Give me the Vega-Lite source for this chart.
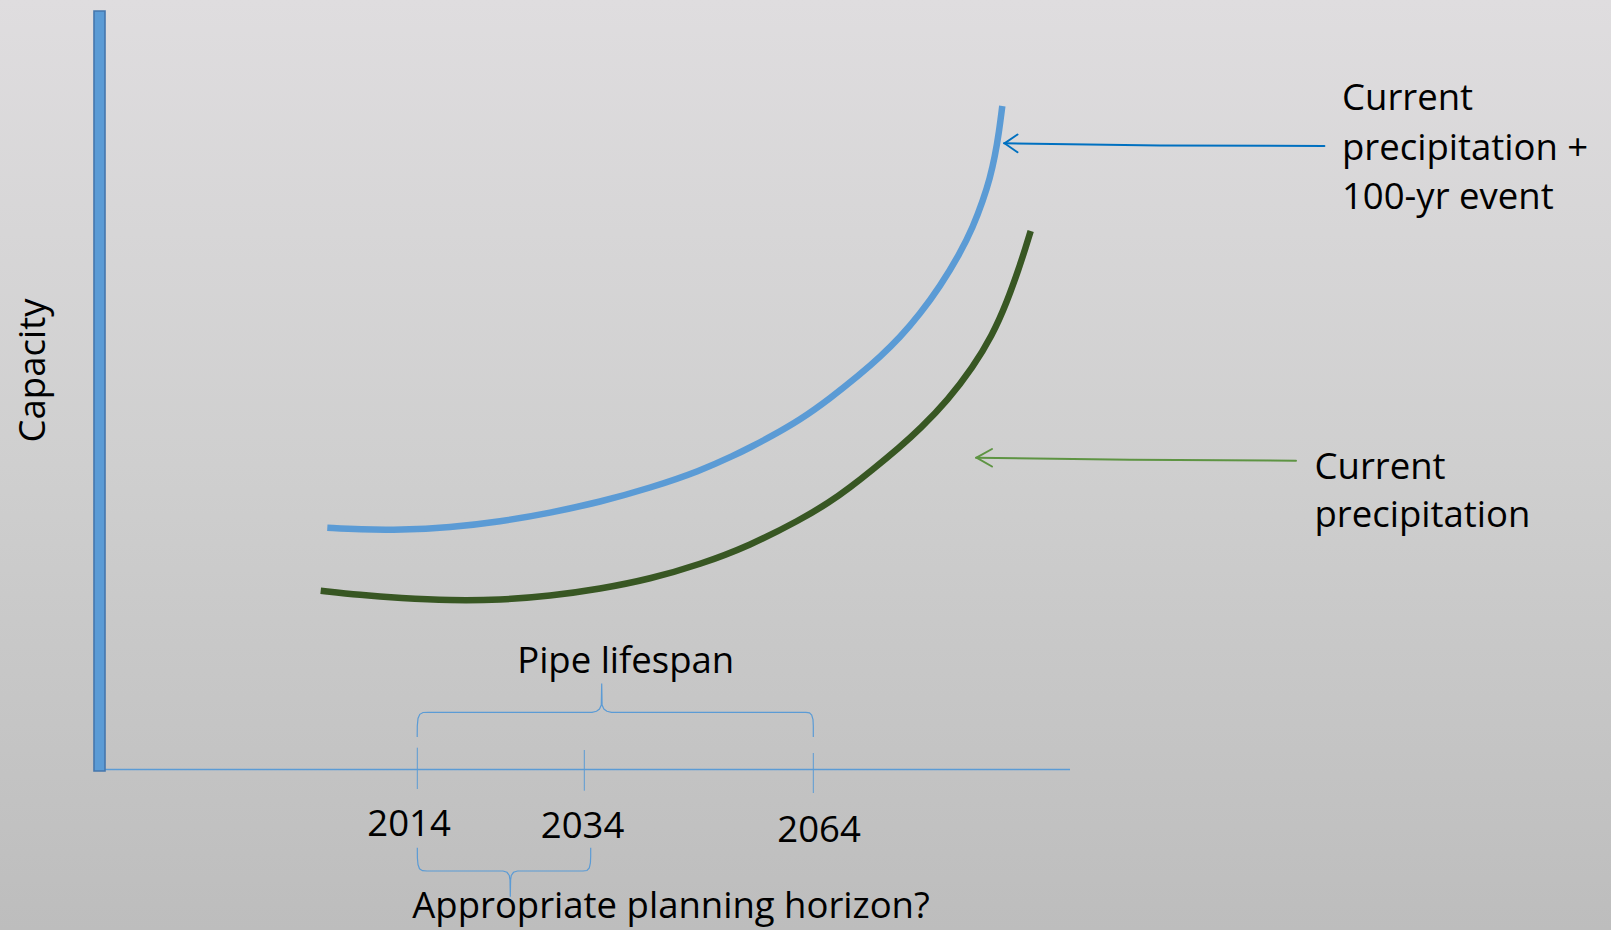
{
  "$schema": "https://vega.github.io/schema/vega-lite/v6.json",
  "width": 1611,
  "height": 930,
  "autosize": {"type": "fit", "contains": "padding"},
  "padding": 0,
  "background": "#cfcfcf",
  "config": {
    "view": {
      "stroke": null,
      "fill": {"gradient": "linear", "x1": 0, "y1": 0, "x2": 0, "y2": 1,
        "stops": [{"offset": 0, "color": "#dfdddf"}, {"offset": 0.5, "color": "#cfcfcf"}, {"offset": 1, "color": "#bdbdbd"}]}
    },
    "text": {"font": "Open Sans", "fontSize": 36.5, "color": "#000000"}
  },
  "datasets": {
    "bars": [{"x": 94, "x2": 105, "y": 11, "y2": 771}],
    "axisline": [{"x": 105, "x2": 1070, "y": 769.5, "y2": 769.5}],
    "ticks": [
      {"year": "2014", "x": 417.3, "x2": 417.3, "y": 747.7, "y2": 789},
      {"year": "2034", "x": 584.3, "x2": 584.3, "y": 750, "y2": 790.7},
      {"year": "2064", "x": 813.3, "x2": 813.3, "y": 753, "y2": 793}
    ],
    "curves": [
      {"s": "plus100", "x": 327.3, "y": 527.7},
      {"s": "plus100", "x": 360, "y": 529.5},
      {"s": "plus100", "x": 400, "y": 530},
      {"s": "plus100", "x": 450, "y": 527.5},
      {"s": "plus100", "x": 500, "y": 521.7},
      {"s": "plus100", "x": 550, "y": 513},
      {"s": "plus100", "x": 600, "y": 502},
      {"s": "plus100", "x": 650, "y": 488},
      {"s": "plus100", "x": 700, "y": 471},
      {"s": "plus100", "x": 735, "y": 455},
      {"s": "plus100", "x": 750, "y": 447.5},
      {"s": "plus100", "x": 770, "y": 437},
      {"s": "plus100", "x": 800, "y": 420},
      {"s": "plus100", "x": 830, "y": 398.5},
      {"s": "plus100", "x": 860, "y": 374.5},
      {"s": "plus100", "x": 880, "y": 357},
      {"s": "plus100", "x": 900, "y": 337.5},
      {"s": "plus100", "x": 920, "y": 314},
      {"s": "plus100", "x": 940, "y": 286.5},
      {"s": "plus100", "x": 960, "y": 253.5},
      {"s": "plus100", "x": 973, "y": 227},
      {"s": "plus100", "x": 983, "y": 200.5},
      {"s": "plus100", "x": 990, "y": 178},
      {"s": "plus100", "x": 995, "y": 156},
      {"s": "plus100", "x": 999, "y": 132},
      {"s": "plus100", "x": 1002.3, "y": 106},
      {"s": "current", "x": 320.7, "y": 590.7},
      {"s": "current", "x": 360, "y": 595},
      {"s": "current", "x": 400, "y": 598},
      {"s": "current", "x": 450, "y": 600.5},
      {"s": "current", "x": 500, "y": 600},
      {"s": "current", "x": 550, "y": 596},
      {"s": "current", "x": 600, "y": 589},
      {"s": "current", "x": 650, "y": 579},
      {"s": "current", "x": 700, "y": 564.5},
      {"s": "current", "x": 750, "y": 545.5},
      {"s": "current", "x": 800, "y": 520},
      {"s": "current", "x": 830, "y": 502},
      {"s": "current", "x": 850, "y": 487.5},
      {"s": "current", "x": 871, "y": 471},
      {"s": "current", "x": 900, "y": 447},
      {"s": "current", "x": 920, "y": 429},
      {"s": "current", "x": 948, "y": 400},
      {"s": "current", "x": 973, "y": 367},
      {"s": "current", "x": 992, "y": 336},
      {"s": "current", "x": 1007, "y": 302},
      {"s": "current", "x": 1019, "y": 268},
      {"s": "current", "x": 1025.5, "y": 248},
      {"s": "current", "x": 1030.7, "y": 231}
    ],
    "braces": [
      {"b": "lifespan", "k": 1, "x": 417.2, "y": 737},
      {"b": "lifespan", "k": 2, "x": 417.3, "y": 726},
      {"b": "lifespan", "k": 3, "x": 418, "y": 718.5},
      {"b": "lifespan", "k": 4, "x": 419.8, "y": 714.3},
      {"b": "lifespan", "k": 5, "x": 423, "y": 712.5},
      {"b": "lifespan", "k": 6, "x": 428, "y": 712.3},
      {"b": "lifespan", "k": 7, "x": 592, "y": 712.3},
      {"b": "lifespan", "k": 8, "x": 596.5, "y": 711.3},
      {"b": "lifespan", "k": 9, "x": 599.5, "y": 709},
      {"b": "lifespan", "k": 10, "x": 601.3, "y": 705},
      {"b": "lifespan", "k": 11, "x": 601.7, "y": 683.5},
      {"b": "lifespan", "k": 12, "x": 602.1, "y": 705},
      {"b": "lifespan", "k": 13, "x": 603.9, "y": 709},
      {"b": "lifespan", "k": 14, "x": 606.9, "y": 711.3},
      {"b": "lifespan", "k": 15, "x": 611.5, "y": 712.3},
      {"b": "lifespan", "k": 16, "x": 806, "y": 712.3},
      {"b": "lifespan", "k": 17, "x": 809.5, "y": 712.8},
      {"b": "lifespan", "k": 18, "x": 811.7, "y": 715},
      {"b": "lifespan", "k": 19, "x": 813, "y": 719.5},
      {"b": "lifespan", "k": 20, "x": 813.3, "y": 726},
      {"b": "lifespan", "k": 21, "x": 813.3, "y": 737},
      {"b": "horizon", "k": 1, "x": 417.3, "y": 847.7},
      {"b": "horizon", "k": 2, "x": 417.4, "y": 858},
      {"b": "horizon", "k": 3, "x": 418, "y": 864.5},
      {"b": "horizon", "k": 4, "x": 419.5, "y": 868.8},
      {"b": "horizon", "k": 5, "x": 422.5, "y": 870.7},
      {"b": "horizon", "k": 6, "x": 427, "y": 871},
      {"b": "horizon", "k": 7, "x": 503, "y": 871},
      {"b": "horizon", "k": 8, "x": 507, "y": 872.3},
      {"b": "horizon", "k": 9, "x": 509.3, "y": 875.5},
      {"b": "horizon", "k": 10, "x": 510, "y": 880},
      {"b": "horizon", "k": 11, "x": 510.3, "y": 896.7},
      {"b": "horizon", "k": 12, "x": 510.6, "y": 880},
      {"b": "horizon", "k": 13, "x": 511.3, "y": 875.5},
      {"b": "horizon", "k": 14, "x": 513.5, "y": 872.3},
      {"b": "horizon", "k": 15, "x": 517.5, "y": 871},
      {"b": "horizon", "k": 16, "x": 583, "y": 871},
      {"b": "horizon", "k": 17, "x": 587, "y": 870.5},
      {"b": "horizon", "k": 18, "x": 589.3, "y": 868},
      {"b": "horizon", "k": 19, "x": 590.4, "y": 863},
      {"b": "horizon", "k": 20, "x": 590.7, "y": 856},
      {"b": "horizon", "k": 21, "x": 590.7, "y": 847.7}
    ],
    "arrows": [
      {"a": "plus100-shaft", "s": "plus100", "k": 1, "x": 1004, "y": 143.3},
      {"a": "plus100-shaft", "s": "plus100", "k": 2, "x": 1160, "y": 145.5},
      {"a": "plus100-shaft", "s": "plus100", "k": 3, "x": 1324.4, "y": 146},
      {"a": "plus100-head", "s": "plus100", "k": 1, "x": 1017.5, "y": 134.5},
      {"a": "plus100-head", "s": "plus100", "k": 2, "x": 1004.5, "y": 143.3},
      {"a": "plus100-head", "s": "plus100", "k": 3, "x": 1017.5, "y": 152.3},
      {"a": "current-shaft", "s": "current", "k": 1, "x": 976, "y": 457.7},
      {"a": "current-shaft", "s": "current", "k": 2, "x": 1130, "y": 459.8},
      {"a": "current-shaft", "s": "current", "k": 3, "x": 1296, "y": 460.7},
      {"a": "current-head", "s": "current", "k": 1, "x": 992, "y": 449},
      {"a": "current-head", "s": "current", "k": 2, "x": 976.5, "y": 457.7},
      {"a": "current-head", "s": "current", "k": 3, "x": 992, "y": 466.5}
    ],
    "labels": [
      {"g": "center", "t": "Pipe lifespan", "x": 625.7, "y": 672.7},
      {"g": "center", "t": "2014", "x": 409, "y": 836},
      {"g": "center", "t": "2034", "x": 582.5, "y": 837.7},
      {"g": "center", "t": "2064", "x": 819, "y": 841.7},
      {"g": "center", "t": "Appropriate planning horizon?", "x": 671, "y": 918},
      {"g": "left", "t": "Current", "x": 1342, "y": 110},
      {"g": "left", "t": "precipitation +", "x": 1342, "y": 159.5},
      {"g": "left", "t": "100-yr event", "x": 1342, "y": 209},
      {"g": "left", "t": "Current", "x": 1314.5, "y": 478.5},
      {"g": "left", "t": "precipitation", "x": 1314.5, "y": 527},
      {"g": "vertical", "t": "Capacity", "x": 45, "y": 370.5}
    ]
  },
  "encoding": {
    "x": {"field": "x", "type": "quantitative", "scale": {"domain": [0, 1611], "nice": false, "zero": false}, "axis": null},
    "y": {"field": "y", "type": "quantitative", "scale": {"domain": [0, 930], "reverse": true, "nice": false, "zero": false}, "axis": null}
  },
  "layer": [
    {
      "data": {"name": "axisline"},
      "mark": {"type": "rule", "color": "#5b9bd5", "strokeWidth": 1.5},
      "encoding": {"x2": {"field": "x2"}, "y2": {"field": "y2"}}
    },
    {
      "data": {"name": "ticks"},
      "mark": {"type": "rule", "color": "#5b9bd5", "strokeWidth": 1},
      "encoding": {"x2": {"field": "x2"}, "y2": {"field": "y2"}}
    },
    {
      "data": {"name": "bars"},
      "mark": {"type": "rect", "fill": "#5b9bd5", "stroke": "#4577ad", "strokeWidth": 1.6},
      "encoding": {"x2": {"field": "x2"}, "y2": {"field": "y2"}}
    },
    {
      "data": {"name": "braces"},
      "mark": {"type": "line", "color": "#5b9bd5", "strokeWidth": 1.2, "interpolate": "linear"},
      "encoding": {"detail": {"field": "b"}, "order": {"field": "k", "type": "quantitative"}}
    },
    {
      "data": {"name": "curves"},
      "transform": [{"filter": "datum.s === 'plus100'"}],
      "mark": {"type": "line", "color": "#5b9bd5", "strokeWidth": 6.5, "interpolate": "basis"},
      "encoding": {}
    },
    {
      "data": {"name": "curves"},
      "transform": [{"filter": "datum.s === 'current'"}],
      "mark": {"type": "line", "color": "#385723", "strokeWidth": 6.5, "interpolate": "basis"},
      "encoding": {}
    },
    {
      "data": {"name": "arrows"},
      "transform": [{"filter": "datum.s === 'plus100'"}],
      "mark": {"type": "line", "color": "#0070c0", "strokeWidth": 2, "strokeCap": "round", "strokeJoin": "round"},
      "encoding": {"detail": {"field": "a"}, "order": {"field": "k", "type": "quantitative"}}
    },
    {
      "data": {"name": "arrows"},
      "transform": [{"filter": "datum.s === 'current'"}],
      "mark": {"type": "line", "color": "#5e9443", "strokeWidth": 2, "strokeCap": "round", "strokeJoin": "round"},
      "encoding": {"detail": {"field": "a"}, "order": {"field": "k", "type": "quantitative"}}
    },
    {
      "data": {"name": "labels"},
      "transform": [{"filter": "datum.g === 'center'"}],
      "mark": {"type": "text", "align": "center", "baseline": "alphabetic"},
      "encoding": {"text": {"field": "t"}}
    },
    {
      "data": {"name": "labels"},
      "transform": [{"filter": "datum.g === 'left'"}],
      "mark": {"type": "text", "align": "left", "baseline": "alphabetic"},
      "encoding": {"text": {"field": "t"}}
    },
    {
      "data": {"name": "labels"},
      "transform": [{"filter": "datum.g === 'vertical'"}],
      "mark": {"type": "text", "align": "center", "baseline": "alphabetic", "angle": 270},
      "encoding": {"text": {"field": "t"}}
    }
  ]
}
